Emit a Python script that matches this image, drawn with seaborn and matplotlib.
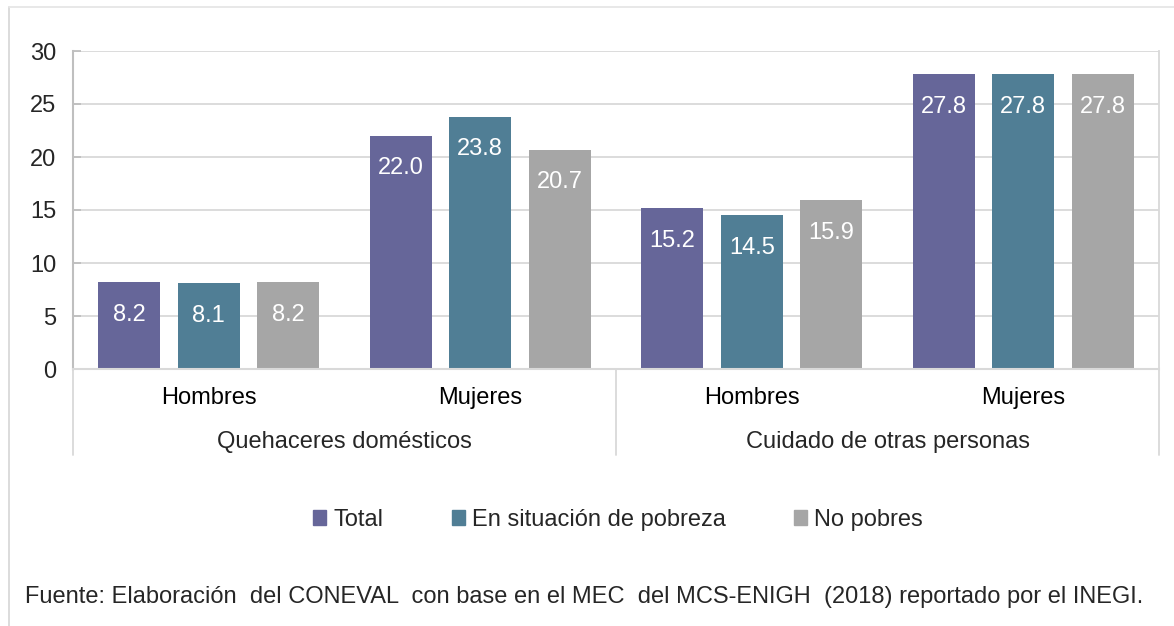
"""Grouped bar chart: hours of unpaid work by sex and poverty condition."""

import matplotlib
matplotlib.use("Agg")
import matplotlib.pyplot as plt
import matplotlib.transforms as mtransforms
from matplotlib.lines import Line2D
import pandas as pd
import seaborn as sns

# data
groups = ["Quehaceres domésticos", "Cuidado de otras personas"]
sexes = ["Hombres", "Mujeres"]
series = ["Total", "En situación de pobreza", "No pobres"]
total = [8.2, 22.0, 15.2, 27.8]
pobreza = [8.1, 23.8, 14.5, 27.8]
no_pobres = [8.2, 20.7, 15.9, 27.8]
colors = ["#666699", "#507E95", "#A6A6A6"]
footer = ("Fuente: Elaboración  del CONEVAL  con base en el MEC  del MCS-ENIGH  "
          "(2018) reportado por el INEGI.")

cats = [f"{g}|{s}" for g in groups for s in sexes]
rows = []
for name, vals in zip(series, [total, pobreza, no_pobres]):
    for c, v in zip(cats, vals):
        rows.append({"cat": c, "serie": name, "valor": v})
df = pd.DataFrame(rows)

FS = 17

sns.set_theme(style="white")
plt.rcParams["font.family"] = ["Liberation Sans", "DejaVu Sans"]
plt.rcParams["font.size"] = FS

fig = plt.figure(figsize=(11.74, 6.26), dpi=100)
ax = fig.add_axes([73 / 1174, 1 - 369 / 626, (1159 - 73) / 1174, (369 - 51) / 626])

sns.barplot(data=df, x="cat", y="valor", hue="serie", order=cats,
            hue_order=series, palette=colors, width=0.877, gap=0.22,
            saturation=1, linewidth=0, ax=ax, legend=False)

for cont in ax.containers:
    for bar in cont:
        h = bar.get_height()
        ax.annotate(f"{h:.1f}", (bar.get_x() + bar.get_width() / 2, h),
                    xytext=(0, -23.5), textcoords="offset points",
                    ha="center", va="center", color="white", fontsize=FS)

ax.set_ylim(0, 30)
ax.set_xlim(-0.5, 3.5)
ax.set_yticks(range(0, 31, 5))
ax.yaxis.grid(True, color="#d9d9d9", linewidth=1.3)
ax.set_axisbelow(True)
ax.set_xlabel("")
ax.set_ylabel("")
ax.set_xticks(range(4))
ax.set_xticklabels([s for g in groups for s in sexes])
ax.tick_params(axis="x", length=0, pad=13, labelsize=FS, colors="black")
ax.tick_params(axis="y", direction="in", length=6, color="#bfbfbf",
               width=1.3, pad=12, labelsize=FS, left=True)
ax.spines["top"].set_visible(False)
ax.spines["left"].set_color("#bfbfbf")
ax.spines["left"].set_linewidth(1.5)
ax.spines["right"].set_color("#d9d9d9")
ax.spines["right"].set_linewidth(1.3)
ax.spines["bottom"].set_color("#d9d9d9")
ax.spines["bottom"].set_linewidth(1.5)

# hierarchical category axis
trans = mtransforms.blended_transform_factory(ax.transData, ax.transAxes)
low = -(455 - 369) / (369 - 51)
for xs in [-0.5, 1.5, 3.5]:
    ax.add_line(Line2D([xs, xs], [0, low], transform=trans, color="#d9d9d9",
                       linewidth=1.3, clip_on=False))
for i, g in enumerate(groups):
    ax.text(2 * i + 0.5, -(442 - 369) / (369 - 51), g, transform=trans,
            ha="center", va="center", fontsize=FS)

# legend
handles = [plt.Rectangle((0, 0), 1, 1, color=c) for c in colors]
fig.legend(handles, series, loc="center", bbox_to_anchor=(618 / 1174, 1 - 520 / 626),
           ncol=3, frameon=False, handlelength=0.55, handleheight=0.6,
           handletextpad=0.3, columnspacing=2.9, fontsize=FS)

fig.text(25 / 1174, 1 - 597 / 626, footer, ha="left", va="center", fontsize=FS)

# outer chart frame
fig.add_artist(Line2D([9 / 1174, 9 / 1174], [0, 1 - 7 / 626], transform=fig.transFigure,
                      color="#d9d9d9", linewidth=1.3))
fig.add_artist(Line2D([9 / 1174, 1], [1 - 7 / 626, 1 - 7 / 626], transform=fig.transFigure,
                      color="#e6e6e6", linewidth=1.3))

fig.savefig("out.png", dpi=100)
